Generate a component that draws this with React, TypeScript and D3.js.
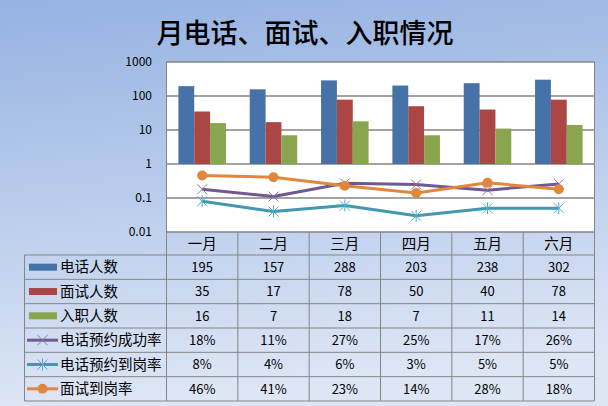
import React from "react";
import * as d3 from "d3";

const months = ["一月", "二月", "三月", "四月", "五月", "六月"];
const callCount = [195, 157, 288, 203, 238, 302];
const interviewCount = [35, 17, 78, 50, 40, 78];
const hireCount = [16, 7, 18, 7, 11, 14];
const callSuccessRate = [0.18, 0.11, 0.27, 0.25, 0.17, 0.26];
const callArriveRate = [0.08, 0.04, 0.06, 0.03, 0.05, 0.05];
const interviewArriveRate = [0.46, 0.41, 0.23, 0.14, 0.28, 0.18];
const yTicks = [0.01, 0.1, 1, 10, 100, 1000];
const yTickLabels = ["0.01", "0.1", "1", "10", "100", "1000"];

type Series = {
  name: string;
  values: number[];
  kind: "bar" | "line";
  color: string;
  marker?: "x" | "star" | "circle";
  markerColor?: string;
  pct?: boolean;
};

const series: Series[] = [
  { name: "电话人数", values: callCount, kind: "bar", color: "#4672a8" },
  { name: "面试人数", values: interviewCount, kind: "bar", color: "#aa4643" },
  { name: "入职人数", values: hireCount, kind: "bar", color: "#89a54e" },
  { name: "电话预约成功率", values: callSuccessRate, kind: "line", color: "#71588f", marker: "x", markerColor: "#8a74ad", pct: true },
  { name: "电话预约到岗率", values: callArriveRate, kind: "line", color: "#4198af", marker: "star", markerColor: "#4fb0cc", pct: true },
  { name: "面试到岗率", values: interviewArriveRate, kind: "line", color: "#e0873d", marker: "circle", markerColor: "#e0873d", pct: true },
];

const W = 608;
const H = 406;
const plotL = 166.5;
const plotR = 594.5;
const plotT = 62;
const plotB = 232;
const tableL = 24.5;
const headerB = 255;
const tableB = 401;
const font = "'Noto Sans CJK SC', 'Noto Sans', sans-serif";
const grid = "#858585";

function Marker({ type, x, y, color }: { type?: string; x: number; y: number; color: string }) {
  const s = 5;
  if (type === "circle") return <circle cx={x} cy={y} r={5} fill={color} />;
  if (type === "x")
    return (
      <g stroke={color} strokeWidth={1}>
        <line x1={x - s} y1={y - s} x2={x + s} y2={y + s} />
        <line x1={x - s} y1={y + s} x2={x + s} y2={y - s} />
      </g>
    );
  if (type === "star")
    return (
      <g stroke={color} strokeWidth={1}>
        <line x1={x - s} y1={y - s} x2={x + s} y2={y + s} />
        <line x1={x - s} y1={y + s} x2={x + s} y2={y - s} />
        <line x1={x} y1={y - s - 1} x2={x} y2={y + s + 1} />
      </g>
    );
  return null;
}

export default function App() {
  const x = d3.scaleBand<string>().domain(months).range([plotL, plotR]).padding(0);
  const barSeries = series.filter((s) => s.kind === "bar");
  const lineSeries = series.filter((s) => s.kind === "line");
  const xInner = d3
    .scaleBand<string>()
    .domain(barSeries.map((s) => s.name))
    .range([0, x.bandwidth()])
    .paddingInner(0)
    .paddingOuter(0.75);
  const y = d3.scaleLog().domain([0.01, 1000]).range([plotB, plotT]);
  const rows = d3.scaleBand<string>().domain(series.map((s) => s.name)).range([headerB, tableB]);
  const line = d3
    .line<number>()
    .x((_, i) => x(months[i])! + x.bandwidth() / 2)
    .y((d) => y(d));
  const fmtPct = d3.format(".0%");

  return (
    <div style={{ position: "fixed", left: 0, top: 0 }}>
      <svg width={W} height={H} style={{ display: "block" }}>
        <defs>
          <linearGradient id="bg" x1="0" y1="0" x2="0.15" y2="1">
            <stop offset="0" stopColor="#95b2e2" />
            <stop offset="1" stopColor="#dde6f5" />
          </linearGradient>
        </defs>
        <rect width={W} height={H} fill="url(#bg)" />
        <text x={305} y={43} textAnchor="middle" fontFamily={font} fontSize={27} fontWeight={500} fill="#000">
          月电话、面试、入职情况
        </text>

        {/* plot area */}
        <rect x={plotL} y={plotT} width={plotR - plotL} height={plotB - plotT} fill="#fff" />
        {yTicks.map((t, i) => (
          <g key={t}>
            <line x1={plotL} x2={plotR} y1={y(t)} y2={y(t)} stroke={grid} strokeWidth={1.5} />
            <text x={152} y={y(t)} dy="0.35em" textAnchor="end" fontFamily={font} fontSize={12} fill="#000">
              {yTickLabels[i]}
            </text>
          </g>
        ))}

        {barSeries.map((s) => (
          <g key={s.name} fill={s.color}>
            {s.values.map((v, i) => (
              <rect
                key={i}
                x={x(months[i])! + xInner(s.name)!}
                y={y(v)}
                width={xInner.bandwidth()}
                height={y(1) - y(v)}
              />
            ))}
          </g>
        ))}

        {lineSeries.map((s) => (
          <g key={s.name}>
            <path d={line(s.values)!} fill="none" stroke={s.color} strokeWidth={3} strokeLinejoin="round" />
            {s.values.map((v, i) => (
              <Marker key={i} type={s.marker} x={x(months[i])! + x.bandwidth() / 2} y={y(v)} color={s.markerColor!} />
            ))}
          </g>
        ))}

        <line x1={plotL} x2={plotL} y1={plotT} y2={tableB} stroke={grid} />
        <line x1={plotR} x2={plotR} y1={plotT} y2={tableB} stroke={grid} />

        {/* data table */}
        <g stroke={grid} strokeWidth={1}>
          {months.map((m) => (
            <line key={m} x1={x(m)!} x2={x(m)!} y1={plotB} y2={tableB} />
          ))}
          <line x1={tableL} x2={tableL} y1={headerB} y2={tableB} />
          <line x1={tableL} x2={plotR} y1={headerB} y2={headerB} />
          {series.map((s) => (
            <line key={s.name} x1={tableL} x2={plotR} y1={rows(s.name)! + rows.bandwidth()} y2={rows(s.name)! + rows.bandwidth()} />
          ))}
        </g>
        {months.map((m) => (
          <text
            key={m}
            x={x(m)! + x.bandwidth() / 2}
            y={(plotB + headerB) / 2}
            dy="0.36em"
            textAnchor="middle"
            fontFamily={font}
            fontSize={14.5}
            fill="#000"
          >
            {m}
          </text>
        ))}
        {series.map((s) => {
          const cy = rows(s.name)! + rows.bandwidth() / 2;
          return (
            <g key={s.name}>
              {s.kind === "bar" ? (
                <rect x={29} y={cy - 3.5} width={28} height={7} fill={s.color} />
              ) : (
                <g>
                  <line x1={27} x2={58} y1={cy} y2={cy} stroke={s.color} strokeWidth={3} />
                  <Marker type={s.marker} x={42.5} y={cy} color={s.markerColor!} />
                </g>
              )}
              <text x={60} y={cy} dy="0.36em" fontFamily={font} fontSize={14.5} fill="#000">
                {s.name}
              </text>
              {s.values.map((v, i) => (
                <text
                  key={i}
                  x={x(months[i])! + x.bandwidth() / 2}
                  y={cy}
                  dy="0.36em"
                  textAnchor="middle"
                  fontFamily={font}
                  fontSize={13}
                  fill="#000"
                >
                  {s.pct ? fmtPct(v) : v}
                </text>
              ))}
            </g>
          );
        })}
      </svg>
    </div>
  );
}
